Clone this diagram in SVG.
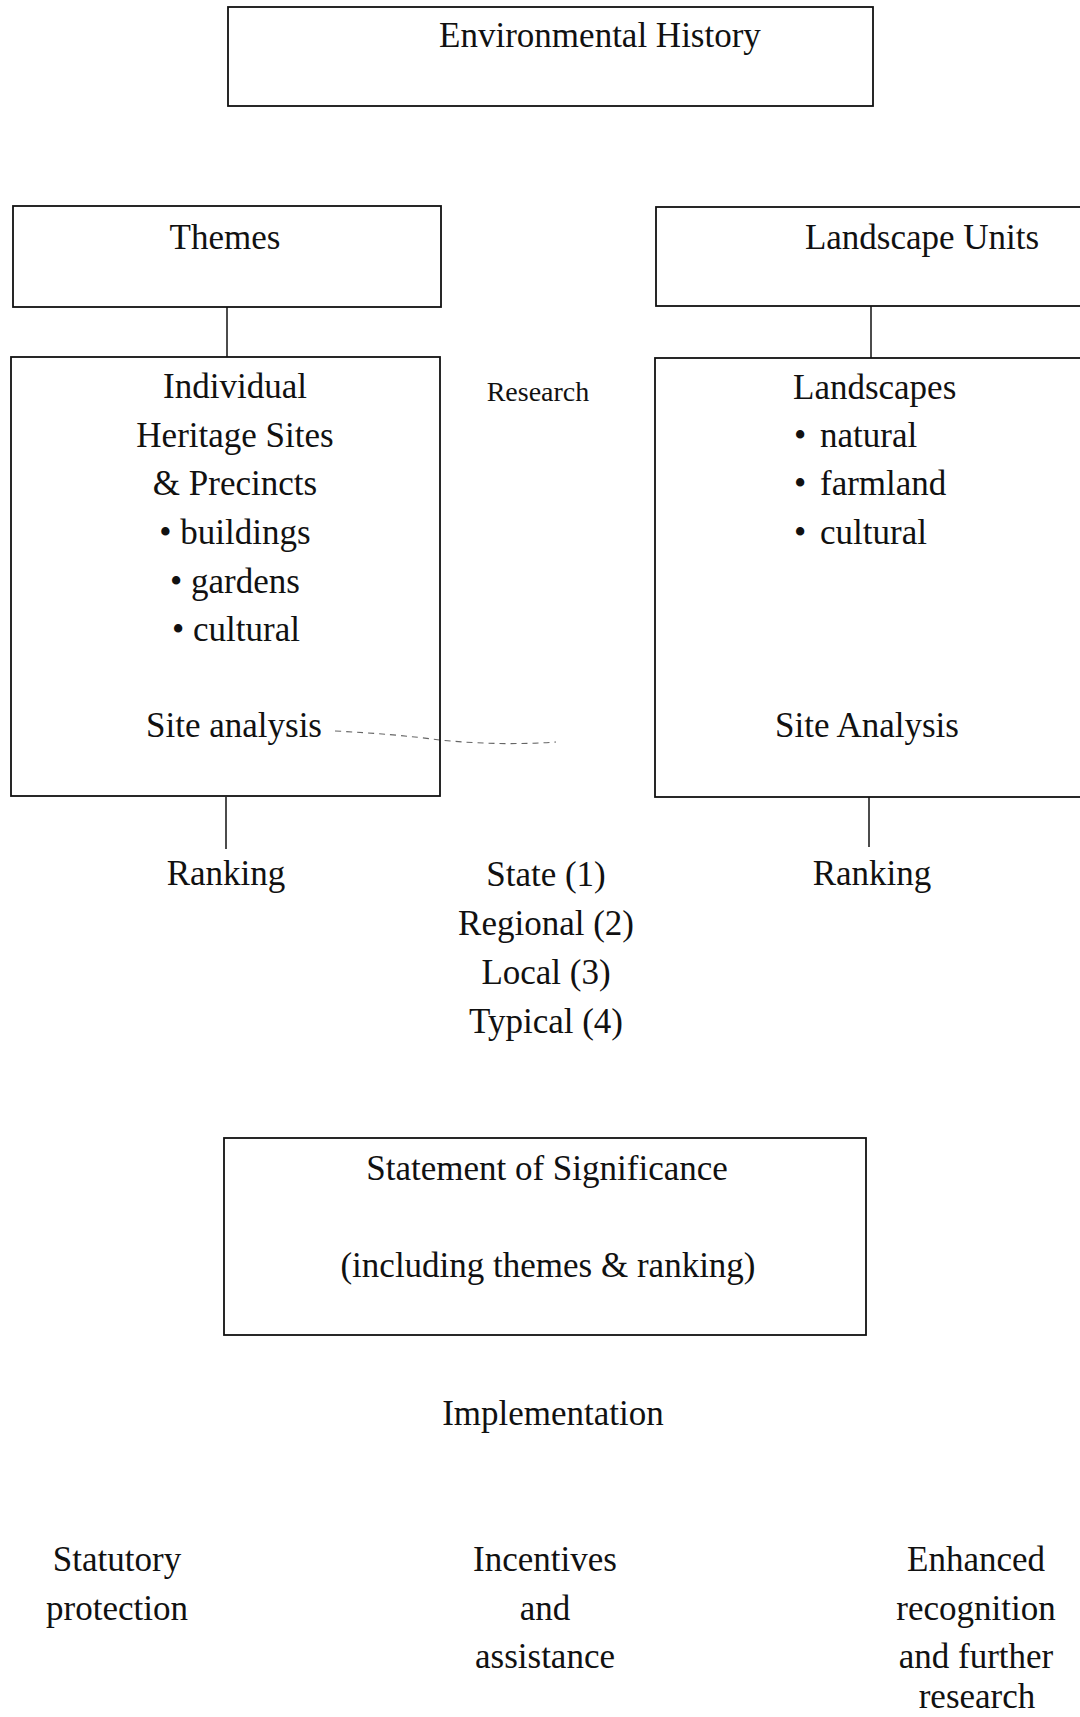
<svg xmlns="http://www.w3.org/2000/svg" width="1080" height="1717" viewBox="0 0 1080 1717">
<style>
.box{fill:none;stroke:#111;stroke-width:1.8}
.ln{fill:none;stroke:#111;stroke-width:1.5}
.faint{fill:none;stroke:#666;stroke-width:1.1}
text{font-family:"Liberation Serif","Times New Roman",serif;font-size:35px;fill:#111}
.c{text-anchor:middle}
.sm{font-size:28px}
</style>
<rect width="1080" height="1717" fill="#fff"/>
<g id="connectors">
<line class="ln" x1="227" y1="307" x2="227" y2="357"/>
<line class="ln" x1="871" y1="306" x2="871" y2="358"/>
<line class="ln" x1="226" y1="797" x2="226" y2="849"/>
<line class="ln" x1="869" y1="797" x2="869" y2="847"/>
<path class="faint" d="M335 731 Q395 734 440 740 Q500 746 556 742" stroke-dasharray="6 5"/>
</g>
<g id="env-history">
<rect class="box" x="228" y="7" width="645" height="99"/>
<text class="c" x="600" y="47">Environmental History</text>
</g>
<g id="themes">
<rect class="box" x="13" y="206" width="428" height="101"/>
<text class="c" x="225" y="249">Themes</text>
</g>
<g id="landscape-units">
<rect class="box" x="656" y="207" width="432" height="99"/>
<text class="c" x="922" y="249">Landscape Units</text>
</g>
<g id="heritage-sites">
<rect class="box" x="11" y="357" width="429" height="439"/>
<text class="c" x="235" y="398">Individual</text>
<text class="c" x="235" y="447">Heritage Sites</text>
<text class="c" x="235" y="495">&amp; Precincts</text>
<text class="c" x="235" y="544">• buildings</text>
<text class="c" x="235" y="593">• gardens</text>
<text class="c" x="236" y="641">• cultural</text>
<text class="c" x="234" y="737">Site analysis</text>
</g>
<g id="research">
<text class="c sm" x="538" y="401">Research</text>
</g>
<g id="landscapes">
<rect class="box" x="655" y="358" width="433" height="439"/>
<text x="793" y="399">Landscapes</text>
<text y="447"><tspan x="794">•</tspan><tspan x="820">natural</tspan></text>
<text y="495"><tspan x="794">•</tspan><tspan x="820">farmland</tspan></text>
<text y="544"><tspan x="794">•</tspan><tspan x="820">cultural</tspan></text>
<text class="c" x="867" y="737">Site Analysis</text>
</g>
<g id="ranking-left">
<text class="c" x="226" y="885">Ranking</text>
</g>
<g id="ranking-right">
<text class="c" x="872" y="885">Ranking</text>
</g>
<g id="ranking-levels">
<text class="c" x="546" y="886">State (1)</text>
<text class="c" x="546" y="935">Regional (2)</text>
<text class="c" x="546" y="984">Local (3)</text>
<text class="c" x="546" y="1033">Typical (4)</text>
</g>
<g id="statement">
<rect class="box" x="224" y="1138" width="642" height="197"/>
<text class="c" x="547" y="1180">Statement of Significance</text>
<text class="c" x="548" y="1277">(including themes &amp; ranking)</text>
</g>
<g id="implementation">
<text class="c" x="553" y="1425">Implementation</text>
</g>
<g id="statutory">
<text class="c" x="117" y="1571">Statutory</text>
<text class="c" x="117" y="1620">protection</text>
</g>
<g id="incentives">
<text class="c" x="545" y="1571">Incentives</text>
<text class="c" x="545" y="1620">and</text>
<text class="c" x="545" y="1668">assistance</text>
</g>
<g id="enhanced">
<text class="c" x="976" y="1571">Enhanced</text>
<text class="c" x="976" y="1620">recognition</text>
<text class="c" x="976" y="1668">and further</text>
<text class="c" x="977" y="1708">research</text>
</g>
</svg>
